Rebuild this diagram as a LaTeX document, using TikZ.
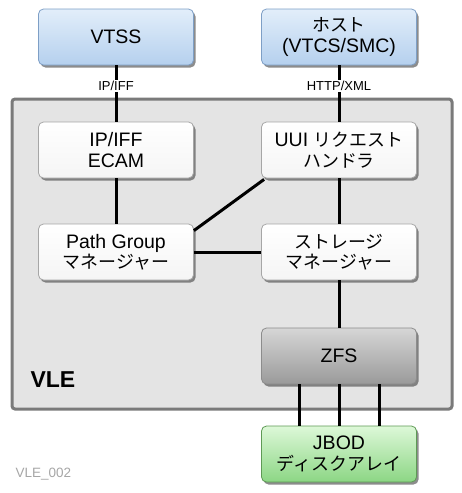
\documentclass[tikz,border=0pt]{standalone}
\usepackage{fontspec}
\setmainfont{Liberation Sans}
\newfontfamily\jp{Noto Sans CJK JP}[Scale=0.92]
\usetikzlibrary{shadows}
\definecolor{bluetop}{HTML}{E2EEFA}
\definecolor{bluebot}{HTML}{B5D0EE}
\definecolor{blueborder}{HTML}{7E9FC6}
\definecolor{greentop}{HTML}{DDF8D8}
\definecolor{greenbot}{HTML}{8CD684}
\definecolor{greenborder}{HTML}{5E9A55}
\definecolor{zfstop}{HTML}{D6D6D6}
\definecolor{zfsbot}{HTML}{9A9A9A}
\definecolor{vlefill}{HTML}{E4E4E4}
\definecolor{vleborder}{HTML}{7A7A7A}
\tikzset{
  box/.style={rounded corners=5pt, line width=0.8pt, minimum width=155pt, minimum height=56pt,
    align=center, font=\fontsize{19.5}{20.5}\selectfont, inner sep=0pt,
    drop shadow={shadow xshift=2pt, shadow yshift=-2.5pt, opacity=0.6, fill=black!75}},
  bluebox/.style={box, draw=blueborder, top color=bluetop, bottom color=bluebot},
  whitebox/.style={box, draw=black!35, top color=white, bottom color=black!4},
  greybox/.style={box, draw=black!45, top color=zfstop, bottom color=zfsbot},
  greenbox/.style={box, draw=greenborder, top color=greentop, bottom color=greenbot},
  conn/.style={line width=3pt, black},
  lbl/.style={fill=white, inner sep=1.5pt, font=\fontsize{13}{14}\selectfont}
}
\begin{document}
\begin{tikzpicture}[x=1pt,y=-1pt]
\useasboundingbox (0,0) rectangle (462,493);
% container
\node[draw=vleborder, fill=vlefill, line width=3pt, rounded corners=3pt, minimum width=440pt, minimum height=310pt, inner sep=0pt] (vle) at (232,254) {};
\node[anchor=base west, font=\fontsize{23}{25}\selectfont\bfseries] (vlelbl) at (27,387) {VLE};
% boxes
\node[bluebox] (vtss) at (116,37) {VTSS};
\node[bluebox] (host) at (339,37) {{\jp ホスト}\\(VTCS/SMC)};
\node[whitebox] (ecam) at (116,150) {IP/IFF\\ECAM};
\node[whitebox] (uui) at (339,150) {UUI {\jp リクエスト}\\{\jp ハンドラ}};
\node[whitebox] (pgm) at (116,252) {Path Group\\{\jp マネージャー}};
\node[whitebox] (stm) at (339,252) {{\jp ストレージ}\\{\jp マネージャー}};
\node[greybox] (zfs) at (339,356) {ZFS};
\node[greenbox] (jbod) at (339,454) {JBOD\\{\jp ディスクアレイ}};
% connectors
\draw[conn] (vtss) -- (ecam);
\draw[conn] (host) -- (uui);
\node[lbl] (l1) at (116,86) {IP/IFF};
\node[lbl] (l2) at (339,86) {HTTP/XML};
\draw[conn] (ecam) -- (pgm);
\coordinate (uuisw) at ([xshift=3pt,yshift=-1pt]uui.south west);
\draw[conn] (uuisw) -- ([yshift=-7pt]pgm.north east);
\draw[conn] (uui) -- (stm);
\draw[conn] (pgm) -- (stm);
\draw[conn] (stm) -- (zfs);
\draw[conn] ([xshift=-40pt]zfs.south) -- ([xshift=-40pt]jbod.north);
\draw[conn] (zfs) -- (jbod);
\draw[conn] ([xshift=40pt]zfs.south) -- ([xshift=40pt]jbod.north);
\node[anchor=base west, text=black!35, font=\fontsize{13.5}{14}\selectfont] (tag) at (12,477) {VLE\_002};
\end{tikzpicture}
\end{document}
